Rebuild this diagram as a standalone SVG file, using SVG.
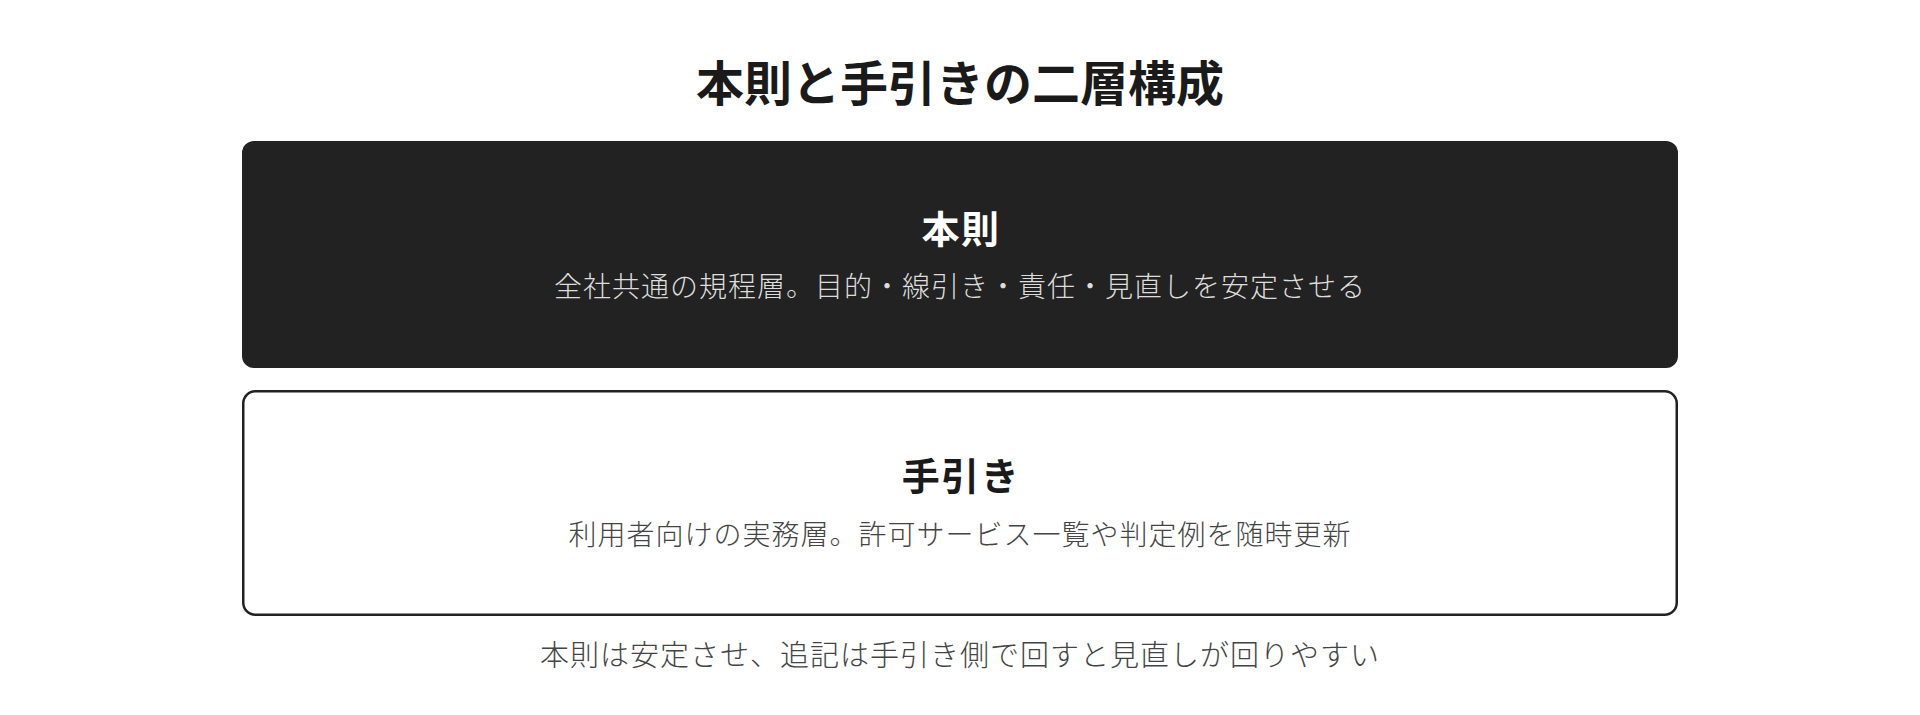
<svg xmlns="http://www.w3.org/2000/svg" width="1920" height="715" viewBox="0 0 1920 715">
<style>
text{font-family:"Noto Sans CJK JP","Noto Sans",sans-serif;text-anchor:middle}
.title{font-size:48px;font-weight:700;fill:#1a1a1a}
.head{font-size:38px;font-weight:700;letter-spacing:1.5px}
.sub{font-size:28px;font-weight:300;letter-spacing:1px}
.foot{font-size:29px;font-weight:300;letter-spacing:1px;fill:#444444}
</style>
<rect width="1920" height="715" fill="#ffffff"/>
<text class="title" x="960" y="101">本則と手引きの二層構成</text>
<g id="node-honsoku">
<rect x="242" y="141" width="1436" height="227" rx="12" fill="#222222"/>
<text class="head" x="961" y="243" fill="#ffffff">本則</text>
<text class="sub" x="960" y="297" fill="#dddddd">全社共通の規程層。目的・線引き・責任・見直しを安定させる</text>
</g>
<g id="node-tebiki">
<rect x="243.25" y="391.25" width="1433.5" height="223.5" rx="12" fill="#ffffff" stroke="#222222" stroke-width="2.5"/>
<text class="head" x="961" y="490" fill="#1a1a1a">手引き</text>
<text class="sub" x="960" y="545" fill="#444444">利用者向けの実務層。許可サービス一覧や判定例を随時更新</text>
</g>
<g id="connectors"></g>
<text class="foot" x="960" y="666">本則は安定させ、追記は手引き側で回すと見直しが回りやすい</text>
</svg>
